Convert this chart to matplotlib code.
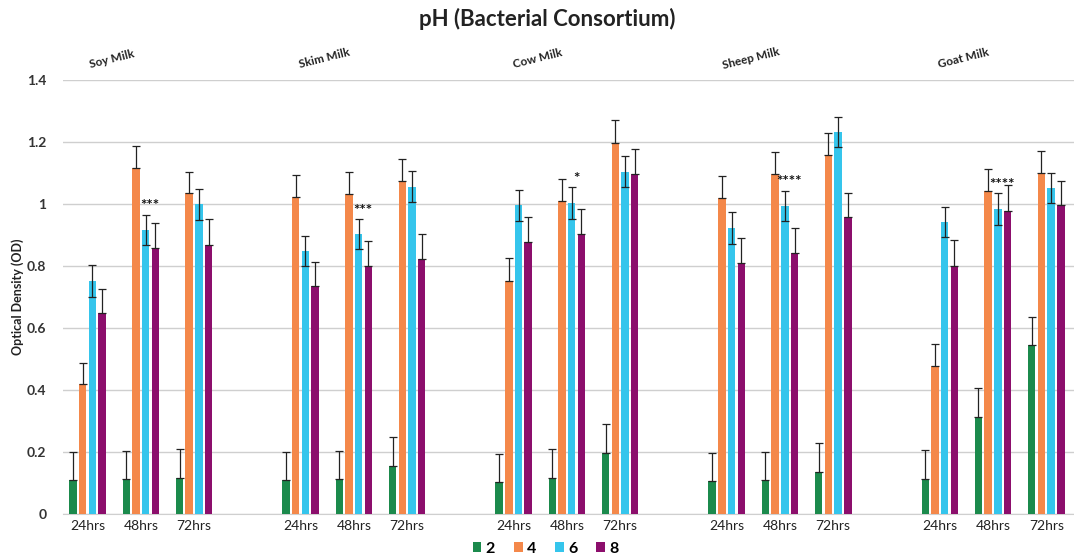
"""
pH (Bacterial Consortium): optical density of five milk types at three
incubation times, one bar per pH level with standard-error whiskers.
"""

import numpy as np
import matplotlib.pyplot as plt
from matplotlib.patches import Patch

plt.rcParams['font.family'] = ['Lato', 'DejaVu Sans']

# --- Data ---
milks = ['Soy Milk', 'Skim Milk', 'Cow Milk', 'Sheep Milk', 'Goat Milk']
times = ['24hrs', '48hrs', '72hrs']
ph_levels = ['2', '4', '6', '8']

# values ordered milk by milk, 24 / 48 / 72 hrs
od_ph2 = [0.110, 0.112, 0.117, 0.110, 0.112, 0.155, 0.103, 0.117, 0.197,
          0.107, 0.109, 0.137, 0.114, 0.314, 0.545]
od_ph4 = [0.419, 1.118, 1.037, 1.023, 1.034, 1.075, 0.752, 1.010, 1.198,
          1.021, 1.097, 1.159, 0.478, 1.044, 1.102]
od_ph6 = [0.752, 0.917, 1.000, 0.850, 0.903, 1.057, 0.996, 1.003, 1.105,
          0.924, 0.994, 1.233, 0.943, 0.984, 1.053]
od_ph8 = [0.648, 0.858, 0.868, 0.736, 0.801, 0.823, 0.877, 0.903, 1.098,
          0.811, 0.842, 0.958, 0.801, 0.979, 0.996]

err_ph2 = [0.090, 0.092, 0.092, 0.090, 0.092, 0.093, 0.092, 0.093, 0.093,
           0.091, 0.091, 0.091, 0.093, 0.092, 0.092]
err_ph4 = [0.070, 0.071, 0.068, 0.071, 0.069, 0.071, 0.073, 0.072, 0.073,
           0.071, 0.071, 0.072, 0.071, 0.071, 0.071]
err_ph6 = [0.052, 0.048, 0.050, 0.048, 0.048, 0.051, 0.050, 0.052, 0.050,
           0.052, 0.049, 0.049, 0.049, 0.051, 0.048]
err_ph8 = [0.077, 0.080, 0.083, 0.076, 0.079, 0.081, 0.081, 0.082, 0.081,
           0.081, 0.081, 0.079, 0.083, 0.082, 0.079]

# significance marks, placed over the 48hrs cluster of each milk
stars = ['***', '***', '*', '****', '****']

series = [od_ph2, od_ph4, od_ph6, od_ph8]
errors = [err_ph2, err_ph4, err_ph6, err_ph8]
colors = ['#1b8a4c', '#f4884a', '#35c5ec', '#8c0e6c']
# only the pH 6 whiskers show their lower half over the bar
two_sided = [False, False, True, False]

# --- Layout: 3 time slots per milk, one empty slot between milks ---
slot = np.array([g * 4 + t for g in range(len(milks)) for t in range(len(times))])
step = 0.182
bar_w = 0.14

fig = plt.figure(figsize=(10.74, 5.6), dpi=100)
ax = fig.add_axes([0.0587, 0.082, 0.9413, 0.7746])

for i, (vals, errs, col) in enumerate(zip(series, errors, colors)):
    xs = slot + (i - 1.5) * step
    ax.bar(xs, vals, width=bar_w, color=col, zorder=3)
    lower = errs if two_sided[i] else np.zeros(len(errs))
    ax.errorbar(xs, vals, yerr=[lower, errs], fmt='none', ecolor='#222222',
                elinewidth=0.9, capsize=2.8, capthick=0.9, zorder=4)

# significance stars
for g, s in enumerate(stars):
    k = g * 3 + 1
    y = od_ph6[k] + err_ph6[k] + 0.028
    ax.text(slot[k] + 0.17, y, s, ha='center', va='center', fontsize=11,
            fontweight='bold', color='#111111', zorder=5)

# milk labels above the plot
for g, name in enumerate(milks):
    ax.text(g * 4 + 0.45, 1.47, name, rotation=14, ha='center', va='center',
            fontsize=8.5, fontweight='bold', color='#222222', clip_on=False)

# axes formatting
ax.set_xlim(-0.46, 18.52)
ax.set_ylim(0, 1.4)
ax.set_xticks(slot)
ax.set_xticklabels(times * len(milks), fontsize=10, color='#222222')
ax.set_yticks(np.arange(0, 1.41, 0.2))
ax.set_yticklabels(['0', '0.2', '0.4', '0.6', '0.8', '1', '1.2', '1.4'],
                   fontsize=10, fontweight='bold', color='#333333')
ax.tick_params(axis='both', length=0)
ax.tick_params(axis='x', pad=4)
ax.tick_params(axis='y', pad=12)
ax.grid(axis='y', color='#cfcfcf', linewidth=1, zorder=0)
for sp in ['top', 'right', 'left']:
    ax.spines[sp].set_visible(False)
ax.spines['bottom'].set_color('#cfcfcf')
ax.set_ylabel('Optical Density (OD)', fontsize=9, fontweight='bold',
              color='#222222', labelpad=2)

fig.text(0.51, 0.966, 'pH (Bacterial Consortium)', fontsize=16,
         fontweight='bold', color='#222222', ha='center', va='center')

handles = [Patch(facecolor=c, label=l) for c, l in zip(colors, ph_levels)]
fig.legend(handles=handles, loc='center', bbox_to_anchor=(0.508, 0.02),
           ncol=4, frameon=False, handlelength=0.55, handleheight=0.55,
           handletextpad=0.25, columnspacing=1.2,
           prop={'size': 11.5, 'weight': 'bold'})

fig.savefig('out.png', dpi=100, facecolor='white')
